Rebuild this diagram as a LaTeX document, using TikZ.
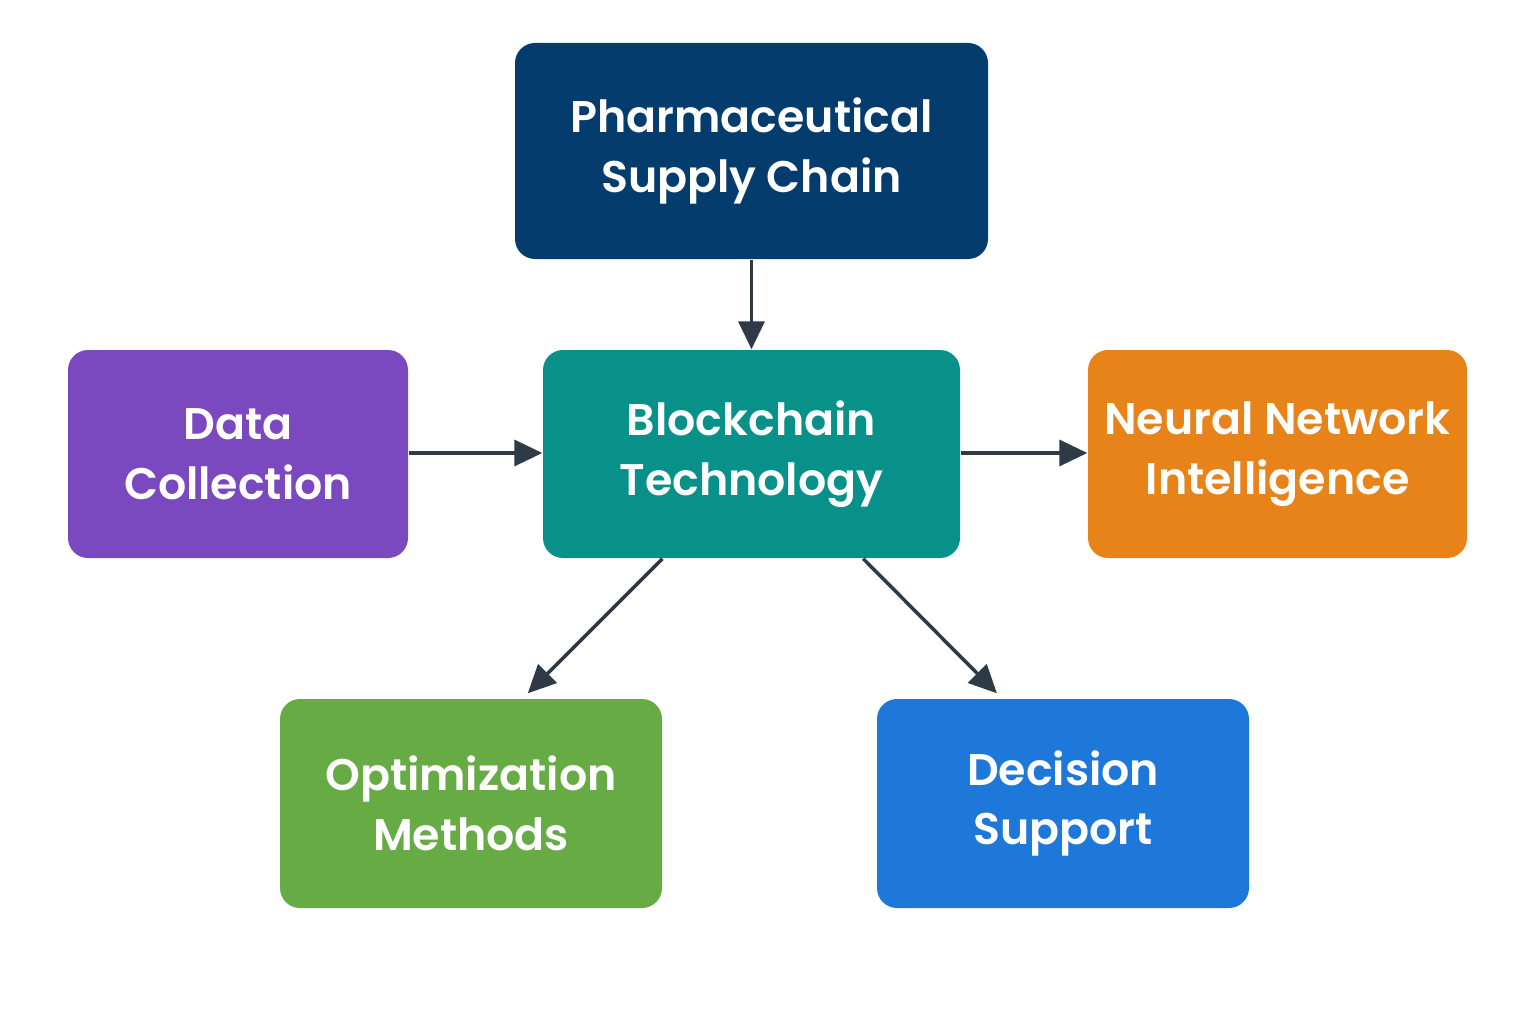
\documentclass[tikz,border=0pt]{standalone}
\usepackage{fontspec}
\setmainfont{Poppins}[BoldFont={* SemiBold}]
\usetikzlibrary{arrows.meta,calc}
\definecolor{cnavy}{HTML}{053C6E}
\definecolor{cteal}{HTML}{079189}
\definecolor{cpurple}{HTML}{7A48BF}
\definecolor{corange}{HTML}{E8831A}
\definecolor{cgreen}{HTML}{67AB45}
\definecolor{cblue}{HTML}{1E78DA}
\definecolor{carrow}{HTML}{2E3B46}
\tikzset{
  box/.style={rounded corners=0.2cm, text=white, align=center, font=\fontsize{12.6}{17}\selectfont\bfseries, inner sep=0pt},
  conn/.style={draw=carrow, line width=1pt, -{Triangle[length=0.28cm,width=0.26cm]}}
}
\begin{document}
\begin{tikzpicture}
\useasboundingbox[fill=white] (0,0) rectangle (15.36,10.24);
\node[box, fill=cnavy, minimum width=4.73cm, minimum height=2.16cm] (pharma) at (7.515,8.73) {Pharmaceutical\\Supply Chain};
\node[box, fill=cteal, minimum width=4.17cm, minimum height=2.08cm] (bc) at (7.515,5.70) {Blockchain\\Technology};
\node[box, fill=cpurple, minimum width=3.40cm, minimum height=2.08cm] (data) at (2.38,5.70) {Data\\Collection};
\node[box, fill=corange, minimum width=3.79cm, minimum height=2.08cm] (nn) at (12.775,5.70) {Neural Network\\Intelligence};
\node[box, fill=cgreen, minimum width=3.82cm, minimum height=2.09cm] (opt) at (4.71,2.205) {Optimization\\Methods};
\node[box, fill=cblue, minimum width=3.72cm, minimum height=2.09cm] (dec) at (10.63,2.205) {Decision\\Support};
\draw[conn] (pharma.south) -- (bc.north);
\draw[conn] ($(data.east)+(0,0.01)$) -- ($(bc.west)+(0,0.01)$);
\draw[conn] ($(bc.east)+(0,0.01)$) -- ($(nn.west)+(0,0.01)$);
\draw[conn] ($(bc.south west)!0.287!(bc.south east)$) -- ($(opt.north west)!0.648!(opt.north east)+(0,0.05)$);
\draw[conn] ($(bc.south west)!0.767!(bc.south east)$) -- ($(dec.north west)!0.323!(dec.north east)+(0,0.05)$);
\end{tikzpicture}
\end{document}
